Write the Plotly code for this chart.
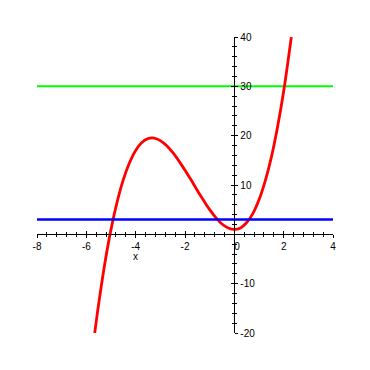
import plotly.graph_objects as go

# curve points
curve_x = [-5.66, -5.5, -5.25, -5.0, -4.75, -4.5, -4.25, -4.0, -3.75, -3.5, -3.25,
           -3.0, -2.75, -2.5, -2.25, -2.0, -1.75, -1.5, -1.25, -1.0, -0.75, -0.5,
           -0.25, 0.0, 0.25, 0.5, 0.75, 1.0, 1.25, 1.5, 1.75, 2.0, 2.31]
curve_y = [-20.0, -14.1, -5.9, 1.0, 6.6, 11.1, 14.5, 17.0, 18.6, 19.4, 19.5,
           19.0, 18.0, 16.6, 14.9, 13.0, 11.0, 8.9, 6.9, 5.0, 3.4, 2.1,
           1.3, 1.0, 1.3, 2.4, 4.2, 7.0, 10.8, 15.6, 21.7, 29.0, 40.0]

green_x = [-8, 4]
green_y = [30, 30]
blue_x = [-8, 4]
blue_y = [3, 3]

x_ticks = [-8, -6, -4, -2, 0, 2, 4]
x_ticktext = ["-8", "-6", "-4", "-2", "\u00a0\u00a00", "2", "4"]
y_ticks = [-20, -10, 10, 20, 30, 40]
y_ticktext = ["-20", "-10", "10", "20", "30", "40"]

X_RANGE = [-8, 4]
Y_RANGE = [-20, 40]

fig = go.Figure()
fig.add_trace(go.Scatter(x=green_x, y=green_y, mode="lines",
                         line=dict(color="#00FF00", width=2), hoverinfo="skip"))
fig.add_trace(go.Scatter(x=blue_x, y=blue_y, mode="lines", xaxis="x2", yaxis="y2",
                         line=dict(color="#0000FF", width=2.5), hoverinfo="skip"))
fig.add_trace(go.Scatter(x=curve_x, y=curve_y, mode="lines",
                         line=dict(color="#FF0000", width=2.8, shape="spline"),
                         hoverinfo="skip"))

xpos = (0 - Y_RANGE[0]) / (Y_RANGE[1] - Y_RANGE[0])
ypos = (0 - X_RANGE[0]) / (X_RANGE[1] - X_RANGE[0])
font = dict(family="Liberation Sans, Arial, sans-serif", size=10, color="black")

common_x = dict(range=X_RANGE, anchor="free", position=xpos, showgrid=False,
                zeroline=False, tickcolor="black", ticklen=3, tickwidth=1,
                tickvals=x_ticks, fixedrange=True)
common_y = dict(range=Y_RANGE, anchor="free", position=ypos, showgrid=False,
                zeroline=False, tickcolor="black", ticklen=3, tickwidth=1,
                tickvals=y_ticks, fixedrange=True)

fig.update_layout(
    width=370, height=370,
    margin=dict(l=37, r=37, t=37, b=37),
    paper_bgcolor="white", plot_bgcolor="white",
    showlegend=False,
    font=font,
    xaxis=dict(**common_x, showline=True, linecolor="black", linewidth=1,
               ticks="outside", ticktext=x_ticktext, tickfont=font,
               minor=dict(ticks="outside", dtick=0.4, tick0=-8, ticklen=2,
                          tickcolor="black", showgrid=False)),
    xaxis2=dict(**common_x, overlaying="x", showline=False, ticks="inside",
                showticklabels=False,
                minor=dict(ticks="inside", dtick=0.4, tick0=-8, ticklen=2,
                           tickcolor="black", showgrid=False)),
    yaxis=dict(**common_y, side="right", showline=True, linecolor="black",
               linewidth=1, ticks="outside", ticktext=y_ticktext, tickfont=font,
               minor=dict(ticks="outside", dtick=2, tick0=0, ticklen=2,
                          tickcolor="black", showgrid=False)),
    yaxis2=dict(**common_y, overlaying="y", side="right", showline=False,
                ticks="inside", showticklabels=False,
                minor=dict(ticks="inside", dtick=2, tick0=0, ticklen=2,
                           tickcolor="black", showgrid=False)),
    annotations=[dict(x=-4, y=-4.5, xref="x", yref="y", text="x",
                      showarrow=False, font=font)],
)

fig.write_html("out.html")
